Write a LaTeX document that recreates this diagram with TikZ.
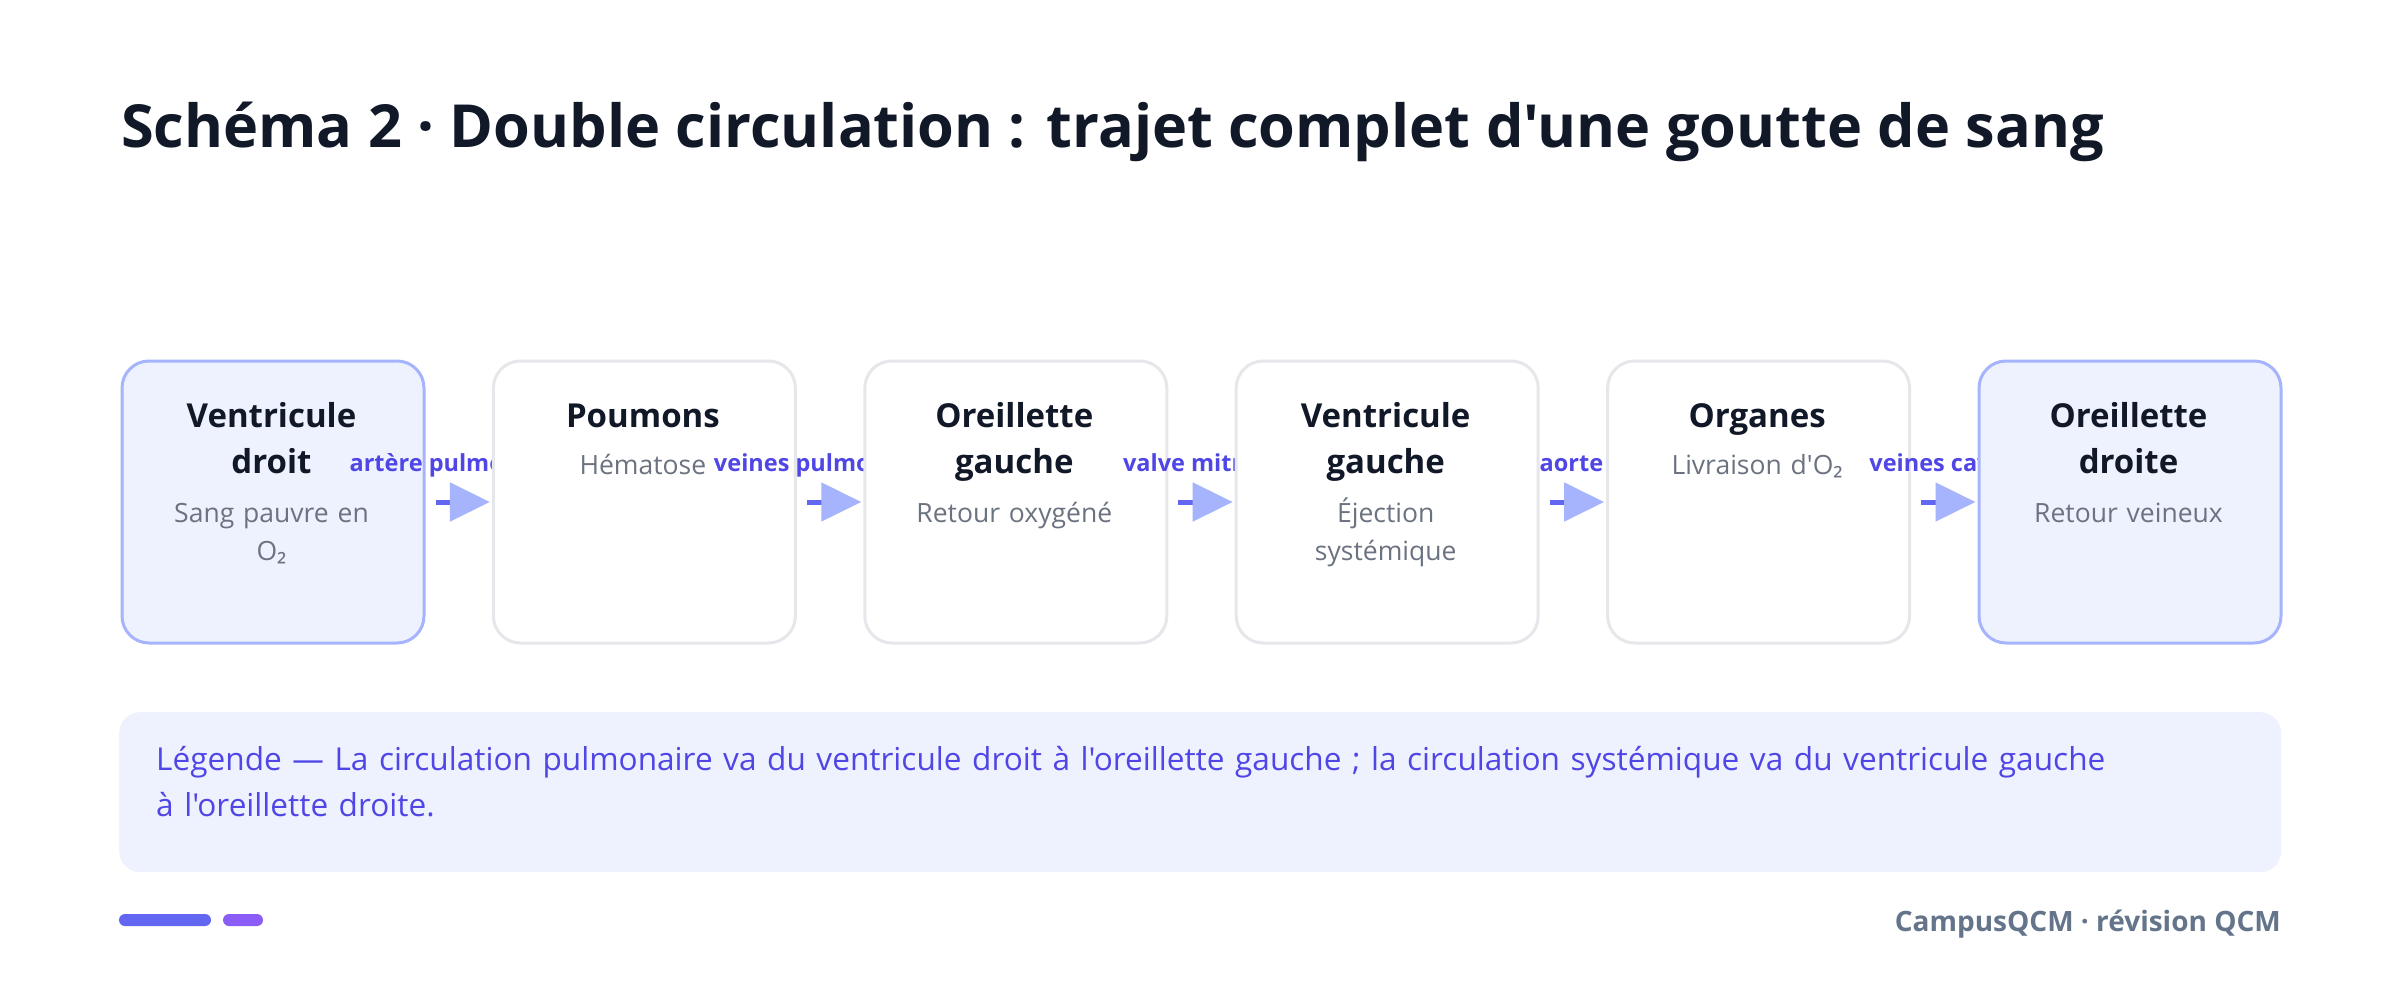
\documentclass[tikz,border=0pt]{standalone}
\usepackage{fontspec}
\setmainfont{Open Sans}[Ligatures=TeXOff]
\newfontfamily\subsfont{Noto Sans}
\newcommand{\otwo}{O{\subsfont ₂}}
\usetikzlibrary{arrows.meta}
\definecolor{ink}{HTML}{111827}
\definecolor{subc}{HTML}{6B7280}
\definecolor{indt}{HTML}{4F46E5}
\definecolor{indf}{HTML}{6366F1}
\definecolor{indl}{HTML}{A5B4FC}
\definecolor{indbg}{HTML}{EEF2FF}
\definecolor{grayb}{HTML}{E5E7EB}
\definecolor{vio}{HTML}{8B5CF6}
\definecolor{slatec}{HTML}{64748B}
\begin{document}
\begin{tikzpicture}[x=1pt,y=-1pt,
 card/.style={draw=grayb,fill=white,line width=3pt,rounded corners=27pt,minimum width=302pt,minimum height=282pt,inner sep=0pt,anchor=north west},
 hicard/.style={card,draw=indl,fill=indbg},
 ttl/.style={anchor=base,text=ink,font=\fontsize{33}{46}\selectfont\bfseries,align=center,text width=290pt,inner sep=0pt},
 subt/.style={anchor=base,text=subc,font=\fontsize{26.5}{38}\selectfont,align=center,text width=290pt,inner sep=0pt},
 lbl/.style={anchor=base,text=indt,font=\fontsize{23.5}{28}\selectfont\bfseries,inner sep=0pt},
 flow/.style={draw=indf,line width=5pt,-{Triangle[length=40pt,width=38pt,color=indl]}}
]
\fill[white] (0,0) rectangle (2400,981);
\useasboundingbox (0,0) rectangle (2400,981);

\node[anchor=base west,inner sep=0pt,text=ink,font=\fontsize{59.4}{68}\selectfont\bfseries] (title) at (121,148) {Schéma 2 · Double circulation : trajet complet d'une goutte de sang};

% card 1
\node[hicard] (b1) at (120.5,359.5) {};
\node[ttl] (t1) at (271.5,427) {Ventricule\\droit};
\node[subt] (s1) at (271.5,522) {Sang pauvre en\\\otwo};
\node[lbl] (l1) at (457.2,471) {artère pulmonaire};
% card 2
\node[card] (b2) at (491.9,359.5) {};
\node[ttl] (t2) at (642.9,427) {Poumons};
\node[subt] (s2) at (642.9,474) {Hématose};
\node[lbl] (l2) at (828.6,471) {veines pulmonaires};
% card 3
\node[card] (b3) at (863.3,359.5) {};
\node[ttl] (t3) at (1014.3,427) {Oreillette\\gauche};
\node[subt] (s3) at (1014.3,522) {Retour oxygéné};
\node[lbl] (l3) at (1200,471) {valve mitrale};
% card 4
\node[card] (b4) at (1234.7,359.5) {};
\node[ttl] (t4) at (1385.7,427) {Ventricule\\gauche};
\node[subt] (s4) at (1385.7,522) {Éjection\\systémique};
\node[lbl] (l4) at (1571.4,471) {aorte};
% card 5
\node[card] (b5) at (1606.1,359.5) {};
\node[ttl] (t5) at (1757.1,427) {Organes};
\node[subt] (s5) at (1757.1,474) {Livraison d'\otwo};
\node[lbl] (l5) at (1942.8,471) {veines caves};
% card 6
\node[hicard] (b6) at (1977.5,359.5) {};
\node[ttl] (t6) at (2128.5,427) {Oreillette\\droite};
\node[subt] (s6) at (2128.5,522) {Retour veineux};

% arrows between cards
\draw[flow] ([xshift=10pt]b1.east) -- ([xshift=-2pt]b2.west);
\draw[flow] ([xshift=10pt]b2.east) -- ([xshift=-2pt]b3.west);
\draw[flow] ([xshift=10pt]b3.east) -- ([xshift=-2pt]b4.west);
\draw[flow] ([xshift=10pt]b4.east) -- ([xshift=-2pt]b5.west);
\draw[flow] ([xshift=10pt]b5.east) -- ([xshift=-2pt]b6.west);

% legend
\node[fill=indbg,rounded corners=21pt,minimum width=2162pt,minimum height=160pt,inner sep=0pt,anchor=north west] (leg) at (119,712) {};
\node[anchor=base west,inner sep=0pt,text=indt,align=left,text width=2100pt,font=\fontsize{31.6}{46}\selectfont] (legtext) at (156,770) {Légende — La circulation pulmonaire va du ventricule droit à l'oreillette gauche ; la circulation systémique va du ventricule gauche\\à l'oreillette droite.};

% footer
\fill[indf,rounded corners=6pt] (119,914) rectangle (211,926);
\fill[vio,rounded corners=6pt] (223,914) rectangle (263,926);
\node[anchor=base east,inner sep=0pt,text=slatec,font=\fontsize{28}{30}\selectfont\bfseries] (foot) at (2281,931) {CampusQCM · révision QCM};
\end{tikzpicture}
\end{document}
